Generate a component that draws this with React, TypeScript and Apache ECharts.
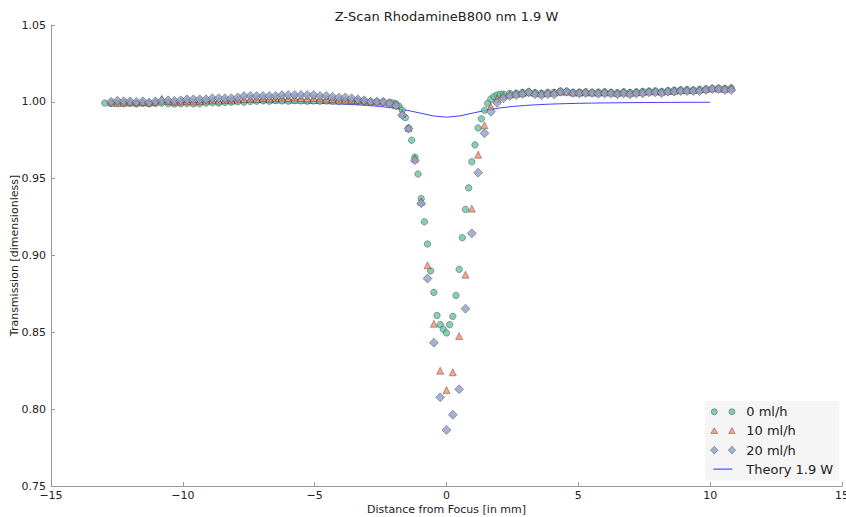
import React, { useEffect, useRef } from "react";
import * as echarts from "echarts";

const TITLE = "Z-Scan RhodamineB800 nm 1.9 W";
const X_NAME = "Distance from Focus [in mm]";
const Y_NAME = "Transmission [dimensionless]";
const SERIES_NAMES = ["0 ml/h", "10 ml/h", "20 ml/h", "Theory 1.9 W"];

// 0 ml/h positions and transmissions
const X_0 = [
  -12.96, -12.72, -12.48, -12.24, -12.0, -11.76, -11.52, -11.28, -11.04, -10.8,
  -10.56, -10.32, -10.08, -9.84, -9.6, -9.36, -9.12, -8.88, -8.64, -8.4,
  -8.16, -7.92, -7.68, -7.44, -7.2, -6.96, -6.72, -6.48, -6.24, -6.0,
  -5.76, -5.52, -5.28, -5.04, -4.8, -4.56, -4.32, -4.08, -3.84, -3.6,
  -3.36, -3.12, -2.88, -2.64, -2.4, -2.16,
  -2.04, -1.92, -1.8, -1.68, -1.56, -1.44, -1.32, -1.2, -1.08, -0.96,
  -0.84, -0.72, -0.6, -0.48, -0.36, -0.24, -0.12, 0, 0.12, 0.24,
  0.36, 0.48, 0.6, 0.72, 0.84, 0.96, 1.08, 1.2, 1.32, 1.44,
  1.56, 1.68, 1.8, 1.92, 2.04,
  2.16, 2.4, 2.64, 2.88, 3.12, 3.36, 3.6, 3.84, 4.08, 4.32,
  4.56, 4.8, 5.04, 5.28, 5.52, 5.76, 6.0, 6.24, 6.48, 6.72,
  6.96, 7.2, 7.44, 7.68, 7.92, 8.16, 8.4, 8.64, 8.88, 9.12,
  9.36, 9.6, 9.84, 10.08, 10.32, 10.56, 10.8,
];
const Y_0 = [
  0.9992, 0.999, 0.999, 0.9988, 0.999, 0.9987, 0.999, 0.9988, 0.999, 0.9992,
  0.9988, 0.9986, 0.9988, 0.999, 0.9986, 0.9988, 0.9992, 0.9994, 0.9992, 0.9996,
  0.9998, 1.0, 0.9998, 1.0002, 1.0004, 1.0006, 1.0004, 1.0008, 1.0006, 1.0004,
  1.0008, 1.0006, 1.0004, 1.0006, 1.0004, 1.0006, 1.0004, 1.0002, 1.0004, 1.0002,
  1.0004, 1.0002, 1.0, 1.0002, 1.0, 0.9996,
  0.9993, 0.9988, 0.9972, 0.9945, 0.9897, 0.983, 0.975, 0.964, 0.953, 0.937,
  0.922, 0.9075, 0.89, 0.876, 0.861, 0.855, 0.852, 0.8496, 0.855, 0.8604,
  0.874, 0.891, 0.9116, 0.93, 0.944, 0.961, 0.972, 0.983, 0.989, 0.9945,
  0.999, 1.0018, 1.0035, 1.0045, 1.0049,
  1.005, 1.0055, 1.0057, 1.0062, 1.0066, 1.006, 1.0057, 1.0062, 1.0062, 1.007,
  1.0068, 1.0062, 1.0064, 1.0066, 1.0062, 1.0064, 1.0066, 1.0062, 1.006, 1.0066,
  1.0062, 1.0066, 1.0068, 1.007, 1.0072, 1.0068, 1.0074, 1.0076, 1.0078, 1.008,
  1.0078, 1.0082, 1.0084, 1.0088, 1.009, 1.0088, 1.009,
];

// 10 ml/h and 20 ml/h share the same positions
const X_10_20 = [
  -12.72, -12.48, -12.24, -12.0, -11.76, -11.52, -11.28, -11.04, -10.8, -10.56,
  -10.32, -10.08, -9.84, -9.6, -9.36, -9.12, -8.88, -8.64, -8.4, -8.16,
  -7.92, -7.68, -7.44, -7.2, -6.96, -6.72, -6.48, -6.24, -6.0, -5.76,
  -5.52, -5.28, -5.04, -4.8, -4.56, -4.32, -4.08, -3.84, -3.6, -3.36,
  -3.12, -2.88, -2.64, -2.4, -2.16, -1.92, -1.68, -1.44, -1.2, -0.96,
  -0.72, -0.48, -0.24, 0, 0.24, 0.48, 0.72, 0.96, 1.2, 1.44,
  1.68, 1.92, 2.16, 2.4, 2.64, 2.88, 3.12, 3.36, 3.6, 3.84,
  4.08, 4.32, 4.56, 4.8, 5.04, 5.28, 5.52, 5.76, 6.0, 6.24,
  6.48, 6.72, 6.96, 7.2, 7.44, 7.68, 7.92, 8.16, 8.4, 8.64,
  8.88, 9.12, 9.36, 9.6, 9.84, 10.08, 10.32, 10.56, 10.8,
];
const Y_10 = [
  0.9995, 0.9992, 0.9995, 0.9998, 0.9995, 0.9998, 0.9995, 1.0, 1.002, 1.0005,
  1.0, 1.0002, 1.0005, 1.0002, 1.0005, 1.0008, 1.001, 1.0008, 1.0012, 1.001,
  1.0015, 1.0018, 1.0022, 1.002, 1.0025, 1.0022, 1.0025, 1.0028, 1.0025, 1.0028,
  1.0025, 1.0022, 1.0025, 1.0022, 1.002, 1.0018, 1.0015, 1.0015, 1.0012, 1.001,
  1.0008, 1.0005, 1.0003, 1.0, 0.9995, 0.998, 0.9925, 0.983, 0.963, 0.935,
  0.8936, 0.8556, 0.825, 0.8125, 0.824, 0.8476, 0.8875, 0.9305, 0.9656, 0.9847,
  0.997, 1.002, 1.004, 1.0048, 1.0052, 1.0058, 1.0062, 1.0058, 1.0055, 1.0058,
  1.006, 1.0066, 1.0066, 1.006, 1.006, 1.0062, 1.006, 1.006, 1.0062, 1.006,
  1.0058, 1.0062, 1.0058, 1.0062, 1.0064, 1.0068, 1.0068, 1.0066, 1.007, 1.0072,
  1.0076, 1.0076, 1.0076, 1.008, 1.0084, 1.0088, 1.0086, 1.0084, 1.0092,
];
const Y_20 = [
  1.0001, 1.0007, 1.0003, 1.0003, 0.9999, 1.0003, 0.9995, 1.0003, 1.0007, 1.001,
  1.0007, 1.001, 1.0016, 1.0016, 1.0016, 1.0016, 1.0023, 1.0023, 1.0023, 1.0023,
  1.0029, 1.0038, 1.0038, 1.0038, 1.0038, 1.0038, 1.0038, 1.0044, 1.0044, 1.0044,
  1.0044, 1.0044, 1.0044, 1.0038, 1.0038, 1.0033, 1.0029, 1.0029, 1.0023, 1.0016,
  1.001, 1.0001, 1.0001, 1.0001, 0.999, 0.9975, 0.9914, 0.9825, 0.962, 0.934,
  0.885, 0.8433, 0.8077, 0.7865, 0.7964, 0.813, 0.8654, 0.9144, 0.9539, 0.9795,
  0.9936, 0.9994, 1.0023, 1.0038, 1.0044, 1.0051, 1.0062, 1.0049, 1.0044, 1.0049,
  1.0049, 1.0066, 1.0066, 1.0057, 1.0055, 1.0057, 1.0057, 1.0053, 1.0055, 1.0055,
  1.0049, 1.0055, 1.0049, 1.0055, 1.0055, 1.0062, 1.0062, 1.0057, 1.0066, 1.0066,
  1.007, 1.007, 1.007, 1.007, 1.0077, 1.0083, 1.0083, 1.0077, 1.0077,
];

// theory curve
const X_TH = [
  -10, -9.5, -9, -8.5, -8, -7.5, -7, -6.5, -6, -5.5, -5, -4.5, -4, -3.5, -3, -2.5, -2, -1.5, -1, -0.5,
  0, 0.5, 1, 1.5, 2, 2.5, 3, 3.5, 4, 4.5, 5, 5.5, 6, 6.5, 7, 7.5, 8, 8.5, 9, 9.5, 10,
];
const Y_TH = [
  0.99974, 0.99971, 0.99968, 0.99964, 0.99959, 0.99954, 0.99947, 0.99939, 0.9993, 0.99917,
  0.99902, 0.99882, 0.99855, 0.99818, 0.99768, 0.99697, 0.99595, 0.99453, 0.99269, 0.99084,
  0.99,
  0.99084, 0.99269, 0.99453, 0.99595, 0.99697, 0.99768, 0.99818, 0.99855, 0.99882, 0.99902,
  0.99917, 0.9993, 0.99939, 0.99947, 0.99954, 0.99959, 0.99964, 0.99968, 0.99971, 0.99974,
];

const X_TICKS_MIN = -15;
const X_TICKS_MAX = 15;
const X_TICK_STEP = 5;
const Y_TICKS_MIN = 0.75;
const Y_TICKS_MAX = 1.05;
const Y_TICK_STEP = 0.05;

const COLORS = ["#66c2a5", "#fc8d62", "#8da0cb", "#2b2bff"];
const FONT = "DejaVu Sans";

const zip = (xs: number[], ys: number[]) => xs.map((x, i) => [x, ys[i]]);

// legend icons: 36x15 boxes (corner moves fix the bounding box)
const BOX = "M0,0 M36,15 ";
const ICON_CIRCLE =
  "path://" + BOX + "M6,7.5 a3,3 0 1,0 6,0 a3,3 0 1,0 -6,0 M23.7,7.5 a3,3 0 1,0 6,0 a3,3 0 1,0 -6,0";
const ICON_TRI =
  "path://" + BOX + "M9,4.3 L12.3,10 L5.7,10 Z M26.7,4.3 L30,10 L23.4,10 Z";
const ICON_DIA =
  "path://" + BOX + "M9,3.6 L12.7,7.5 L9,11.4 L5.3,7.5 Z M26.7,3.6 L30.4,7.5 L26.7,11.4 L23,7.5 Z";
const ICON_LINE = "path://" + BOX + "M8,7 L27,7 L27,8 L8,8 Z";

export default function App() {
  const ref = useRef<HTMLDivElement>(null);
  useEffect(() => {
    if (!ref.current) return;
    const chart = echarts.init(ref.current, undefined, { renderer: "svg" });
    const edge = { borderColor: "#333", borderWidth: 0.5 };
    chart.setOption({
      animation: false,
      title: {
        text: TITLE,
        left: 446.5,
        textAlign: "center",
        top: 10,
        padding: 0,
        textStyle: { fontFamily: FONT, fontSize: 13, fontWeight: "normal", color: "#222" },
      },
      grid: { left: 51, right: 4, top: 25, bottom: 31, containLabel: false, outerBoundsMode: "none" },
      legend: {
        orient: "vertical",
        left: 705,
        top: 401,
        padding: [3, 6, 4, 0],
        itemGap: 3.7,
        itemWidth: 36,
        itemHeight: 15,
        symbolKeepAspect: false,
        backgroundColor: "#f5f5f5",
        selectedMode: false,
        textStyle: { fontFamily: FONT, fontSize: 13, color: "#222", lineHeight: 15 },
        data: [
          { name: SERIES_NAMES[0], icon: ICON_CIRCLE, itemStyle: { color: COLORS[0], ...edge } },
          { name: SERIES_NAMES[1], icon: ICON_TRI, itemStyle: { color: COLORS[1], ...edge } },
          { name: SERIES_NAMES[2], icon: ICON_DIA, itemStyle: { color: COLORS[2], ...edge } },
          { name: SERIES_NAMES[3], icon: ICON_LINE, itemStyle: { color: COLORS[3], borderWidth: 0 } },
        ],
      },
      xAxis: {
        type: "value",
        min: X_TICKS_MIN,
        max: X_TICKS_MAX,
        interval: X_TICK_STEP,
        name: X_NAME,
        nameLocation: "middle",
        nameGap: 18,
        nameMoveOverlap: false,
        nameTextStyle: { fontFamily: FONT, fontSize: 11, color: "#222" },
        axisLine: { show: true, onZero: false, lineStyle: { color: "#999", width: 1 } },
        axisTick: { show: true, inside: true, length: 4, lineStyle: { color: "#999" } },
        axisLabel: {
          fontFamily: FONT,
          fontSize: 11,
          color: "#222",
          margin: 4,
          formatter: (v: number) => String(v).replace("-", "\u2212"),
        },
        splitLine: { show: false },
      },
      yAxis: {
        type: "value",
        min: Y_TICKS_MIN,
        max: Y_TICKS_MAX,
        interval: Y_TICK_STEP,
        name: Y_NAME,
        nameLocation: "middle",
        nameGap: 31,
        nameMoveOverlap: false,
        nameTextStyle: { fontFamily: FONT, fontSize: 11, color: "#222" },
        axisLine: { show: true, onZero: false, lineStyle: { color: "#999", width: 1 } },
        axisTick: { show: true, inside: true, length: 4, lineStyle: { color: "#999" } },
        axisLabel: {
          fontFamily: FONT,
          fontSize: 11,
          color: "#222",
          margin: 5,
          formatter: (v: number) => v.toFixed(2),
        },
        splitLine: { show: false },
      },
      series: [
        {
          name: SERIES_NAMES[3],
          type: "line",
          data: zip(X_TH, Y_TH),
          showSymbol: false,
          symbol: "none",
          lineStyle: { color: COLORS[3], width: 0.9 },
          itemStyle: { color: COLORS[3] },
          silent: true,
          z: 1,
        },
        {
          name: SERIES_NAMES[0],
          type: "scatter",
          data: zip(X_0, Y_0),
          symbol: "circle",
          symbolSize: 6.5,
          itemStyle: { color: COLORS[0], ...edge },
          silent: true,
          z: 2,
        },
        {
          name: SERIES_NAMES[1],
          type: "scatter",
          data: zip(X_10_20, Y_10),
          symbol: "triangle",
          symbolSize: 7,
          itemStyle: { color: COLORS[1], ...edge },
          silent: true,
          z: 2,
        },
        {
          name: SERIES_NAMES[2],
          type: "scatter",
          data: zip(X_10_20, Y_20),
          symbol: "diamond",
          symbolSize: 9,
          itemStyle: { color: COLORS[2], ...edge },
          silent: true,
          z: 2,
        },
      ],
    });
    return () => chart.dispose();
  }, []);
  return (
    <div
      ref={ref}
      style={{ position: "absolute", left: 0, top: 0, width: 846, height: 517, background: "#fff" }}
    />
  );
}
